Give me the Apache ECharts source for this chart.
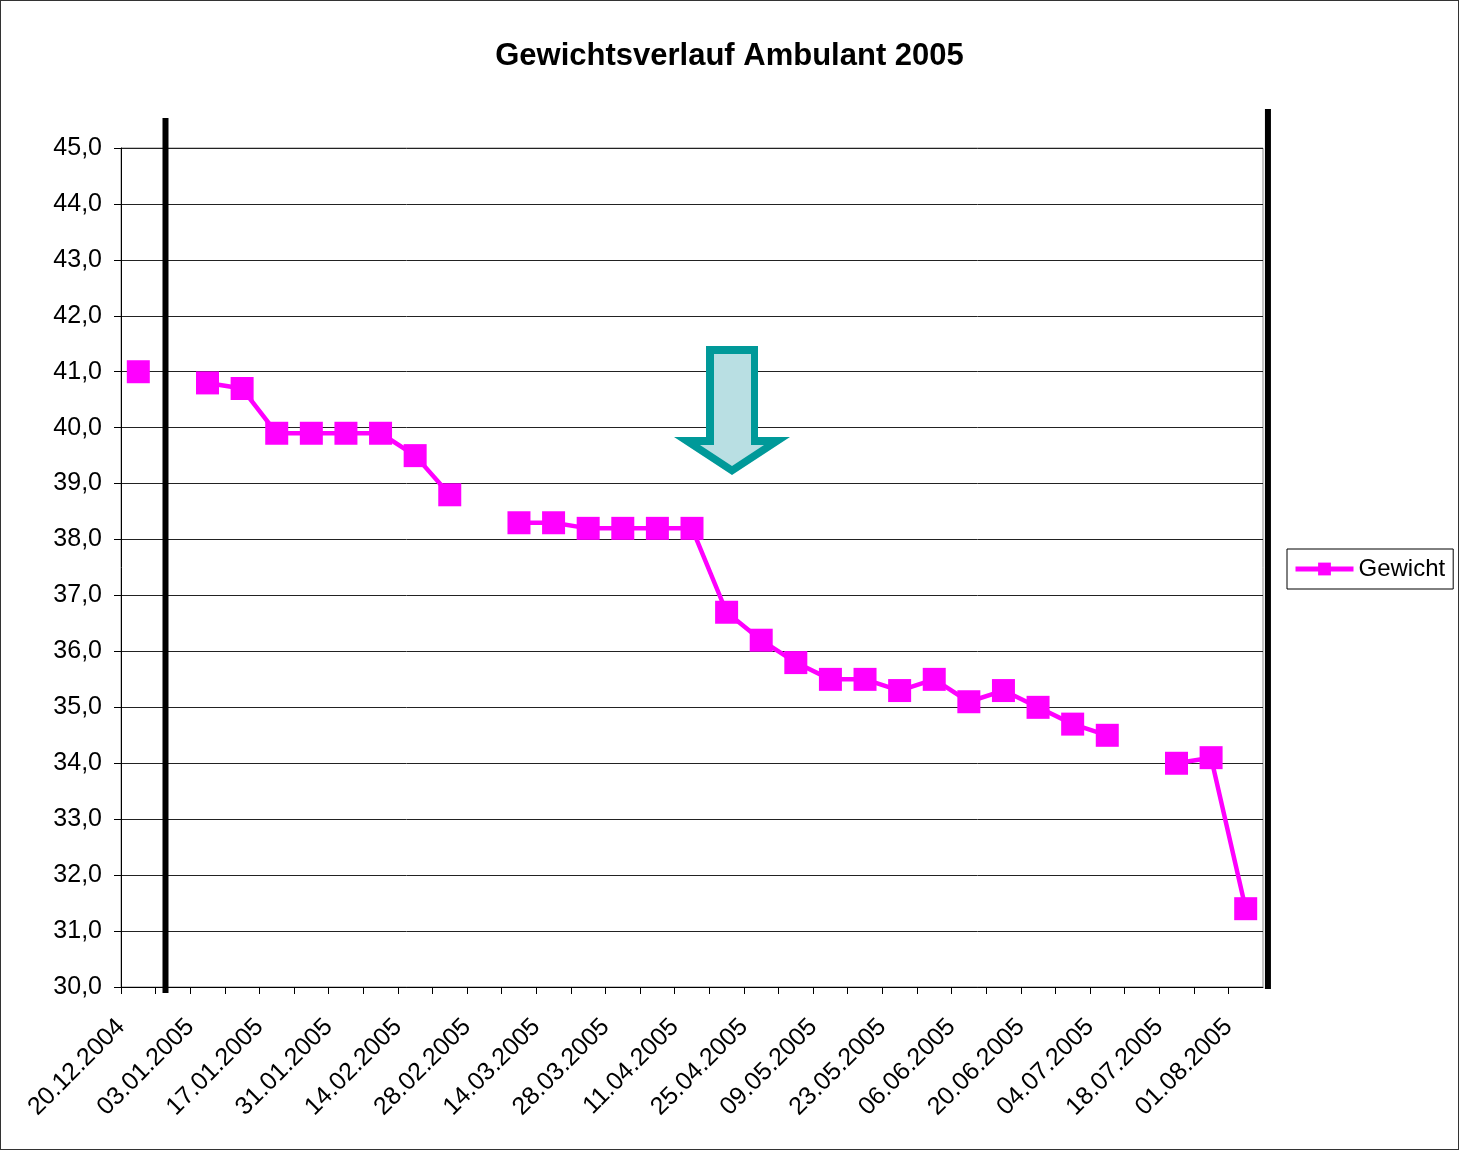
<!DOCTYPE html>
<html>
<head>
<meta charset="utf-8">
<script src="https://cdn.jsdelivr.net/npm/echarts@6/dist/echarts.min.js"></script>
<style>
    html, body { margin: 0; padding: 0; background: #fff; }
    #char1 { width: 1459px; height: 1150px; box-sizing: border-box; border: 1px solid #333; }
</style>
</head>
<body>
<div id="char1"></div>
<script>
// Messdaten (wöchentlich, null = keine Messung)
var messDatum = ['23.12.2004', '30.12.2004', '06.01.2005', '13.01.2005', '20.01.2005', '27.01.2005',
    '03.02.2005', '10.02.2005', '17.02.2005', '24.02.2005', '03.03.2005', '10.03.2005', '17.03.2005',
    '24.03.2005', '31.03.2005', '07.04.2005', '14.04.2005', '21.04.2005', '28.04.2005', '05.05.2005',
    '12.05.2005', '19.05.2005', '26.05.2005', '02.06.2005', '09.06.2005', '16.06.2005', '23.06.2005',
    '30.06.2005', '07.07.2005', '14.07.2005', '21.07.2005', '28.07.2005', '04.08.2005'];
var gewicht = [41.0, null, 40.8, 40.7, 39.9, 39.9, 39.9, 39.9, 39.5, 38.8, null, 38.3, 38.3,
    38.2, 38.2, 38.2, 38.2, 36.7, 36.2, 35.8, 35.5, 35.5, 35.3, 35.5, 35.1, 35.3, 35.0,
    34.7, 34.5, null, 34.0, 34.1, 31.4];

// Achse
var startDatum = '20.12.2004';
var endDatum = '08.08.2005';
var tickTage = 7;
var labelTage = 14;
// gezeichnete Linien (Zeitraum-Markierung)
var linienDatum = ['29.12.2004', '09.08.2005'];

function toDay(s) {
    var p = s.split('.');
    var t = Date.UTC(+p[2], +p[1] - 1, +p[0]);
    var p0 = startDatum.split('.');
    var t0 = Date.UTC(+p0[2], +p0[1] - 1, +p0[0]);
    return Math.round((t - t0) / 86400000);
}
function fromDay(d) {
    var p0 = startDatum.split('.');
    var dt = new Date(Date.UTC(+p0[2], +p0[1] - 1, +p0[0]) + d * 86400000);
    var dd = ('0' + dt.getUTCDate()).slice(-2);
    var mm = ('0' + (dt.getUTCMonth() + 1)).slice(-2);
    return dd + '.' + mm + '.' + dt.getUTCFullYear();
}

var tempdata = [];
for (var i = 0; i < messDatum.length; i++) {
    // Excel-Datumsachse: Punkt in der Mitte des Tages
    tempdata.push([toDay(messDatum[i]) + 0.5, gewicht[i]]);
}

var font = 'Liberation Sans, Arial, sans-serif';
var myChart = echarts.init(document.getElementById('char1'));
option = {
    animation: false,
    title: {
        text: 'Gewichtsverlauf Ambulant 2005',
        left: 'center',
        top: 35,
        textStyle: { fontFamily: font, fontSize: 31, fontWeight: 'bold', color: '#000' }
    },
    legend: {
        left: 1286,
        top: 548,
        orient: 'vertical',
        borderColor: '#000',
        borderWidth: 1,
        padding: [8, 8, 8, 6],
        itemWidth: 58,
        itemHeight: 16,
        itemGap: 5,
        lineStyle: { width: 5 },
        textStyle: { fontFamily: font, fontSize: 24, color: '#000' },
        data: ['Gewicht']
    },
    grid: {
        left: 120,
        right: 195,
        top: 147,
        bottom: 162,
        show: true,
        borderColor: '#888',
        borderWidth: 1
    },
    xAxis: {
        type: 'value',
        min: 0,
        max: toDay(endDatum),
        interval: tickTage,
        axisLine: { show: true, onZero: false, lineStyle: { color: '#000', width: 1 } },
        axisTick: { show: true, inside: false, length: 7, lineStyle: { color: '#000' } },
        splitLine: { show: false },
        axisLabel: {
            rotate: 45,
            margin: 36,
            fontFamily: font,
            fontSize: 25,
            color: '#000',
            showMaxLabel: false,
            formatter: function (v) {
                if (v % labelTage !== 0) return '';
                return fromDay(v);
            }
        }
    },
    yAxis: {
        type: 'value',
        min: 30,
        max: 45,
        interval: 1,
        axisLine: { show: true, lineStyle: { color: '#000', width: 1 } },
        axisTick: { show: true, length: 7, lineStyle: { color: '#000' } },
        splitLine: { show: true, lineStyle: { color: '#222', width: 1 } },
        axisLabel: {
            margin: 19,
            fontFamily: font,
            fontSize: 25,
            color: '#000',
            formatter: function (v) { return v.toFixed(1).replace('.', ','); }
        }
    },
    series: [
        {
            name: 'Gewicht',
            type: 'line',
            data: tempdata,
            symbol: 'rect',
            symbolSize: 23,
            connectNulls: false,
            itemStyle: { color: '#ff00ff' },
            lineStyle: { color: '#ff00ff', width: 4.5 }
        }
    ]
};
myChart.setOption(option);

// Markierungslinien und Pfeil
var yTop = myChart.convertToPixel({ gridIndex: 0 }, [0, 45])[1];
var yBot = myChart.convertToPixel({ gridIndex: 0 }, [0, 30])[1];
var xL = myChart.convertToPixel({ gridIndex: 0 }, [toDay(linienDatum[0]), 30])[0];
var xR = myChart.convertToPixel({ gridIndex: 0 }, [toDay(linienDatum[1]), 30])[0];
myChart.setOption({
    graphic: [
        { type: 'rect', shape: { x: xL - 3, y: yTop - 30, width: 6, height: yBot - yTop + 36 }, style: { fill: '#000' }, z: 100 },
        { type: 'rect', shape: { x: xR - 3, y: yTop - 39, width: 6, height: yBot - yTop + 41 }, style: { fill: '#000' }, z: 100 },
        {
            type: 'polygon',
            shape: { points: [[705, 345], [757, 345], [757, 436], [789, 436], [731, 474], [673, 436], [705, 436]] },
            style: { fill: '#009999' }, z: 100
        },
        {
            type: 'polygon',
            shape: { points: [[713, 353], [750, 353], [750, 444], [763, 444], [731, 465], [699, 444], [713, 444]] },
            style: { fill: '#b9dfe3' }, z: 101
        }
    ]
});
window.addEventListener('resize', function () { myChart.resize(); })
</script>
</body>
</html>
